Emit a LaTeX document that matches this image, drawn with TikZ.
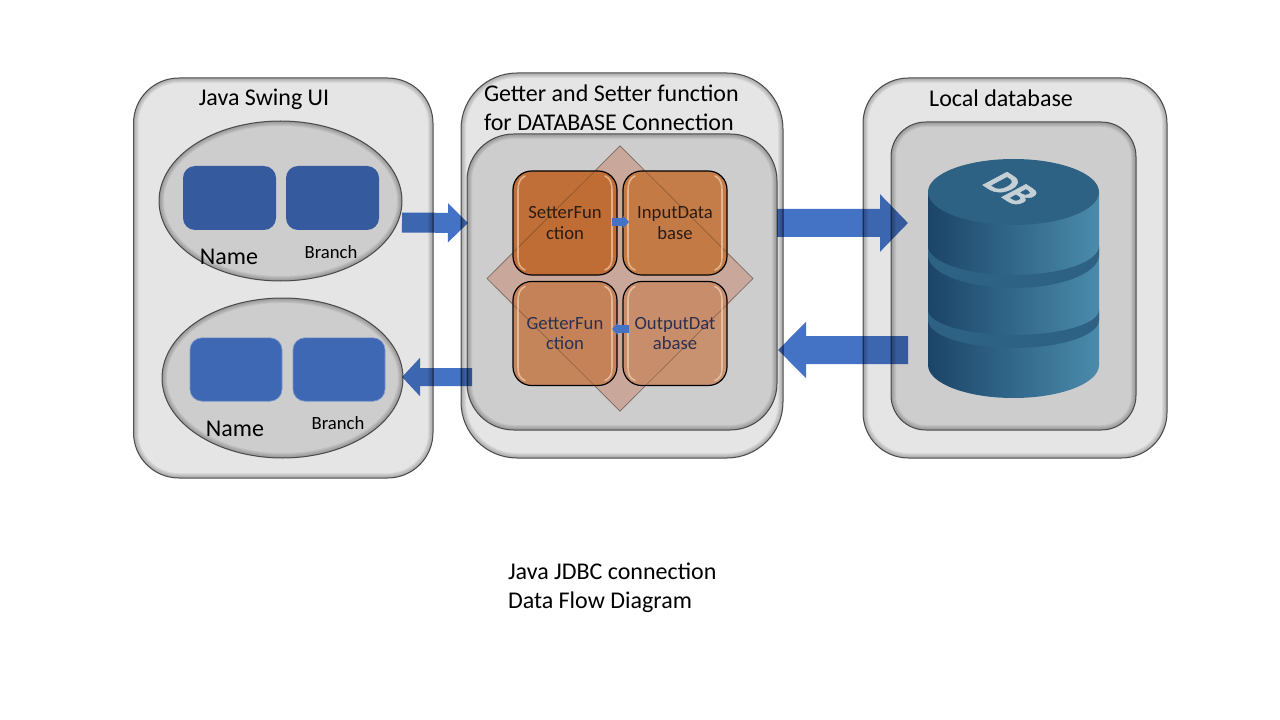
\documentclass[tikz,border=0pt]{standalone}
\usepackage{fontspec}
\setmainfont{Carlito}
\usetikzlibrary{shapes.geometric,arrows.meta,calc}
\definecolor{panelout}{HTML}{E5E5E5}
\definecolor{panelin}{HTML}{CDCDCD}
\definecolor{edgeg}{HTML}{5A5A5A}
\definecolor{blockblue}{HTML}{4472C4}
\definecolor{darkrect}{HTML}{355A9E}
\definecolor{lightrect}{HTML}{3E68B3}
\definecolor{diam}{HTML}{C9A79B}
\definecolor{dbl}{HTML}{1B4468}
\definecolor{dbm}{HTML}{2D6285}
\definecolor{dbr}{HTML}{4A8BAB}
\definecolor{dbtxt}{HTML}{C5D0D6}
\definecolor{boxa}{HTML}{C0682E}
\definecolor{boxb}{HTML}{C4773F}
\definecolor{boxc}{HTML}{C58053}
\definecolor{boxd}{HTML}{C88D69}
\definecolor{txta}{HTML}{2A1C14}
\definecolor{txtb}{HTML}{2B3050}
\definecolor{glosscol}{HTML}{F8DCC0}
\tikzset{
 paneln/.style={draw=edgeg,line width=.75pt,inner sep=0pt,outer sep=0pt},
 bluerect/.style={inner sep=0pt,outer sep=0pt,rounded corners=9pt},
 orbox/.style={draw=black,line width=.9pt,fill opacity=.93,inner sep=0pt,outer sep=0pt,rounded corners=14pt,minimum width=78pt,minimum height=78pt},
 lab/.style={inner sep=0pt,outer sep=0pt,align=left},
 big/.style={font=\fontsize{18}{21.7}\selectfont},
 mid/.style={font=\fontsize{14}{15.4}\selectfont},
 blockarrow/.style={draw=blockblue},
 gloss/.style={draw=glosscol,line width=1.2pt,opacity=.6,line cap=round},
}
\newcommand{\softpanel}[7]{%
 \node[paneln,fill=#7,rounded corners=#6pt,minimum width={(#4-#2)*.75pt},minimum height={(#5-#3)*.75pt}] (#1) at ({(#2+#4)/2},{(#3+#5)/2}) {};
 \begin{scope}
  \clip[rounded corners=#6pt] (#2,#3) rectangle (#4,#5);
  \foreach \lw in {10,8,6,4,2}{\draw[black,opacity=.055,line width=\lw*.75pt,rounded corners=#6pt] (#2,#3) rectangle (#4,#5);}
 \end{scope}}
\newcommand{\softellipse}[5]{%
 \node[paneln,ellipse,fill=panelin,minimum width={(#4-#2)*.75pt},minimum height={(#5-#3)*.75pt}] (#1) at ({(#2+#4)/2},{(#3+#5)/2}) {};
 \begin{scope}
  \clip ({(#2+#4)/2},{(#3+#5)/2}) ellipse [x radius={(#4-#2)/2},y radius={(#5-#3)/2}];
  \foreach \lw in {10,8,6,4,2}{\draw[black,opacity=.055,line width=\lw*.75pt] ({(#2+#4)/2},{(#3+#5)/2}) ellipse [x radius={(#4-#2)/2},y radius={(#5-#3)/2}];}
 \end{scope}}
\newcommand{\glossbars}[1]{%
 \draw[gloss] ($(#1.north west)+(12,5)$) .. controls ($(#1.north west)+(7,7)$) and ($(#1.north west)+(5,12)$) .. ($(#1.north west)+(5,20)$) -- ($(#1.south west)+(5,-18)$) .. controls ($(#1.south west)+(5,-11)$) and ($(#1.south west)+(7,-7)$) .. ($(#1.south west)+(12,-5)$);
 \draw[gloss] ($(#1.north east)+(-12,5)$) .. controls ($(#1.north east)+(-7,7)$) and ($(#1.north east)+(-5,12)$) .. ($(#1.north east)+(-5,20)$) -- ($(#1.south east)+(-5,-18)$) .. controls ($(#1.south east)+(-5,-11)$) and ($(#1.south east)+(-7,-7)$) .. ($(#1.south east)+(-12,-5)$);}
\begin{document}
\begin{tikzpicture}[x=.75pt,y=-.75pt]
\useasboundingbox (0,0) rectangle (1280,720);
\fill[white] (0,0) rectangle (1280,720);
% left panel
\softpanel{ui}{133.5}{78}{433}{478}{34}{panelout}
\softellipse{form}{159}{121}{402}{281}
\softellipse{view}{162}{298}{403}{458}
\node[bluerect,fill=darkrect,minimum width=69.75pt,minimum height=48pt] (r1) at (229.5,198) {};
\node[bluerect,fill=darkrect,minimum width=69.75pt,minimum height=48pt] (r2) at (332.5,198) {};
\node[bluerect,fill=lightrect,draw=lightrect!70!white,line width=.5pt,minimum width=69pt,minimum height=47.5pt] (r3) at (236,369.5) {};
\node[bluerect,fill=lightrect,draw=lightrect!70!white,line width=.5pt,minimum width=69pt,minimum height=47.5pt] (r4) at (339,369.5) {};
\node[lab,big] (t1) at (264,99) {Java Swing UI};
\node[lab,big] (n1) at (229,257) {Name};
\node[lab,mid] (b1) at (331,252) {Branch};
\node[lab,big] (n2) at (235,429) {Name};
\node[lab,mid] (b2) at (338,423) {Branch};
% middle panel
\softpanel{gs}{461}{73}{783}{458}{42}{panelout}
\softpanel{core}{467}{134}{777}{430}{35}{panelin}
\node[lab,big,anchor=north west] (t2) at (484,85) {Getter and Setter function\\for DATABASE Connection};
\node[diamond,fill=diam,draw=black!45,line width=.4pt,inner sep=0pt,outer sep=0pt,minimum width=199.5pt,minimum height=199pt] (dm) at (620,278.5) {};
\node[orbox,fill=boxa] (sf) at (565,223) {};
\node[orbox,fill=boxb] (id) at (675,223) {};
\node[orbox,fill=boxc] (gf) at (565,333.5) {};
\node[orbox,fill=boxd] (od) at (675,333.5) {};
\draw[black!60!brown,line width=.5pt,opacity=.4] (dm.north) -- (dm.east) -- (dm.south) -- (dm.west) -- cycle;
\glossbars{sf}\glossbars{id}\glossbars{gf}\glossbars{od}
\node[lab,mid,align=center,text=txta] (tsf) at (sf) {SetterFun\\ction};
\node[lab,mid,align=center,text=txta] (tid) at (id) {InputData\\base};
\node[lab,mid,align=center,text=txtb] (tgf) at (gf) {GetterFun\\ction};
\node[lab,mid,align=center,text=txtb] (tod) at (od) {OutputDat\\abase};
% right panel
\softpanel{ldb}{863}{78}{1167}{458}{34}{panelout}
\softpanel{dbp}{891}{122}{1136}{430}{26}{panelin}
\node[lab,big] (t3) at (1001,98) {Local database};
% cylinder
\shade[left color=dbl,middle color=dbm,right color=dbr] (928,192) -- (928,365) arc[start angle=180,end angle=0,x radius=85.5,y radius=33] -- (1099,192) -- cycle;
\fill[dbm] (928,246) arc[start angle=180,end angle=0,x radius=85.5,y radius=29] -- (1099,255) arc[start angle=0,end angle=180,x radius=85.5,y radius=33] -- cycle;
\fill[dbm] (928,310) arc[start angle=180,end angle=0,x radius=85.5,y radius=25] -- (1099,320) arc[start angle=0,end angle=180,x radius=85.5,y radius=28] -- cycle;
\fill[dbm] (1013.5,192) ellipse[x radius=85.5,y radius=33];
\node[text=dbtxt,font=\fontsize{22}{22}\bfseries\selectfont,cm={1.02,-.66,1.28,.68,(0,0)},inner sep=0pt] (dbt) at (1011,189) {\addfontfeature{FakeBold=1.5}DB};
% block arrows
\begin{scope}[transparency group,blend mode=multiply]
\draw[blockarrow,line width=15pt,-{Triangle[length=15pt,width=28.5pt]}] ($(form.east)+(0,21.5)$) -- ($(core.west)+(1,-59)$);
\end{scope}
\begin{scope}[transparency group,blend mode=multiply]
\draw[blockarrow,line width=13.5pt,-{Triangle[length=13.5pt,width=28pt]}] ($(core.west)+(5,95)$) -- ($(view.east)+(-1,-1)$);
\end{scope}
\begin{scope}[transparency group,blend mode=multiply]
\draw[blockarrow,line width=21pt,-{Triangle[length=21pt,width=42pt]}] ($(core.east)+(0,-59)$) -- ($(dbp.west)+(17,-53)$);
\end{scope}
\begin{scope}[transparency group,blend mode=multiply]
\draw[blockarrow,line width=21pt,-{Triangle[length=21pt,width=41pt]}] ($(dbp.west)+(17,74)$) -- ($(core.east)+(1,68)$);
\end{scope}
\draw[blockarrow,line width=5.5pt,-{Triangle[length=4.5pt,width=9pt]}] ($(sf.east)+(-5,-1)$) -- ($(id.west)+(6,-1)$);
\draw[blockarrow,line width=5.5pt,-{Triangle[length=4.5pt,width=9pt]}] ($(od.west)+(6,-4.5)$) -- ($(gf.east)+(-5,-4.5)$);
% caption
\node[lab,big,anchor=north west] (cap) at (508,563) {Java JDBC connection\\Data Flow Diagram};
\end{tikzpicture}
\end{document}
